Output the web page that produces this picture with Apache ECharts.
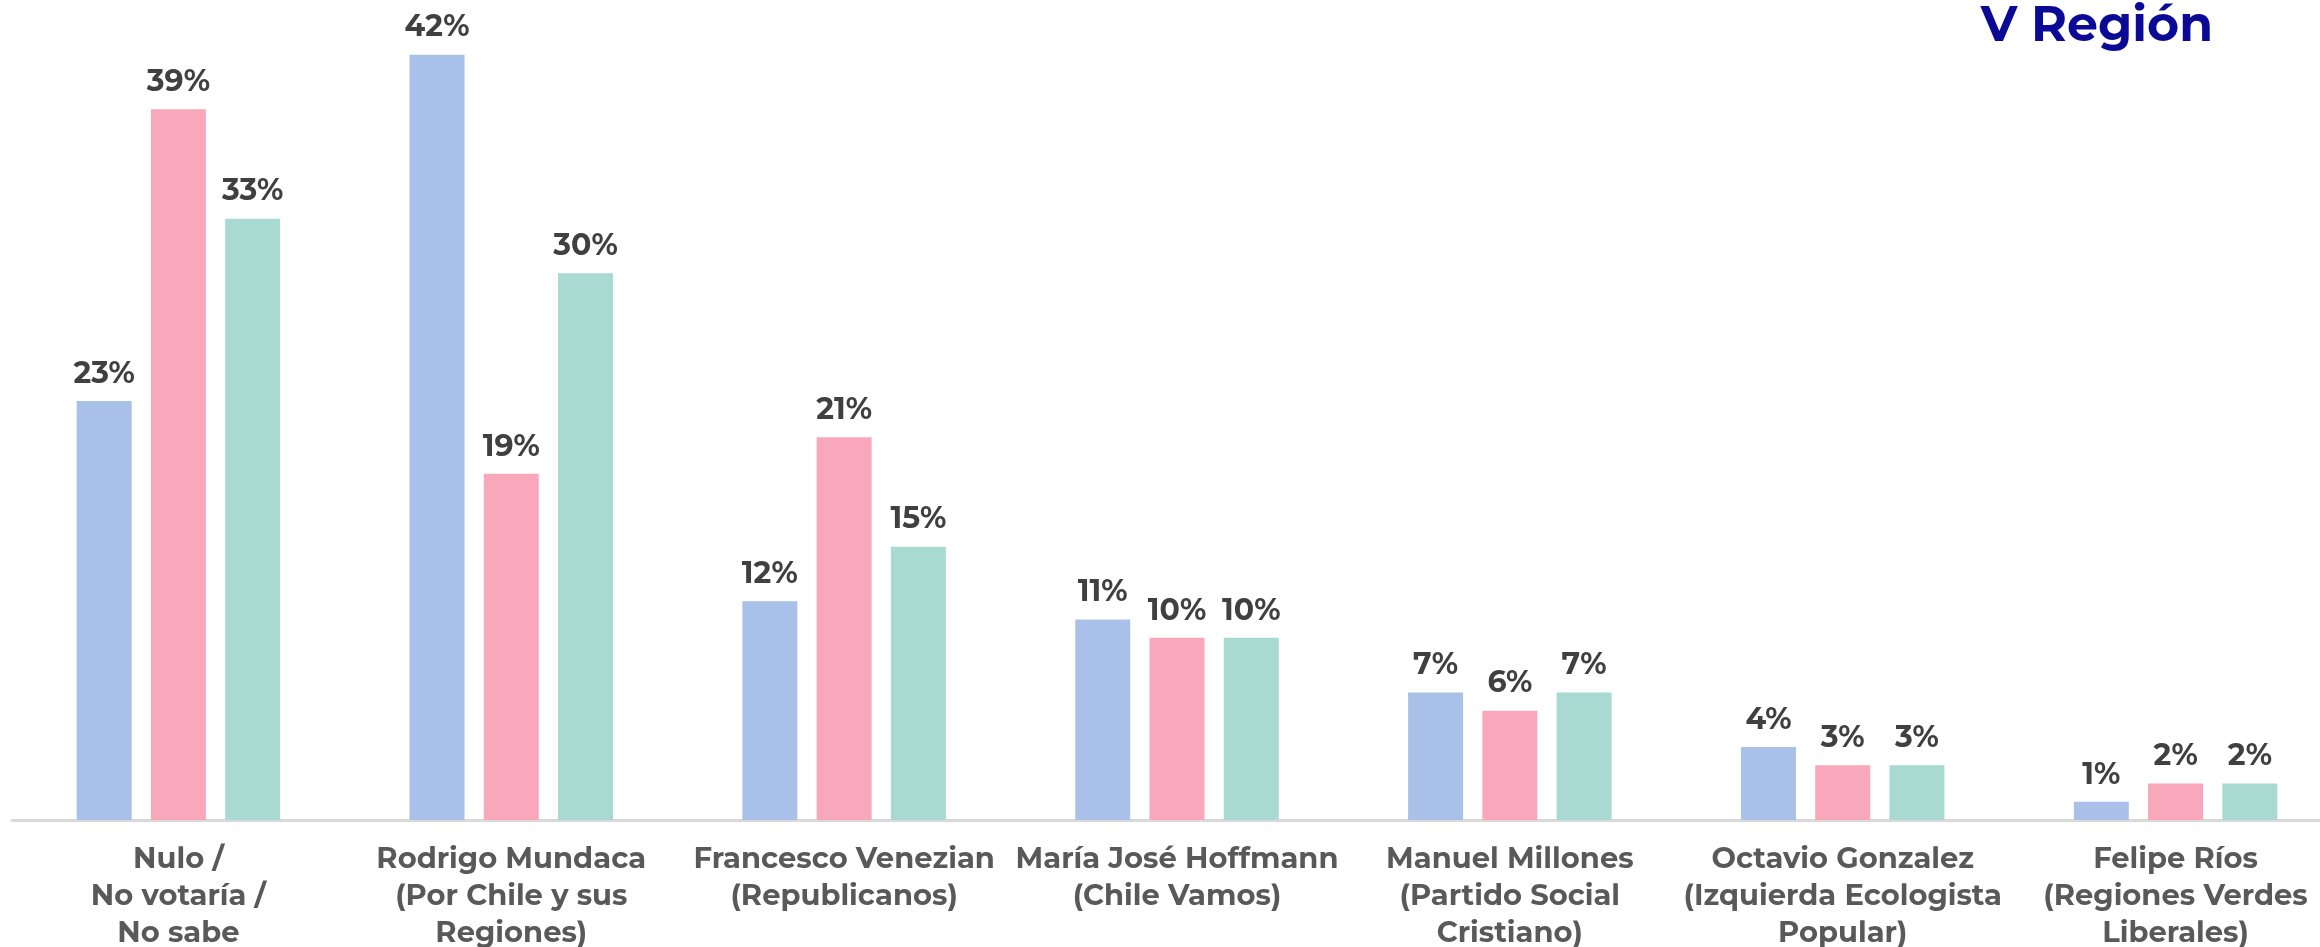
<!DOCTYPE html>
<html>
<head>
<meta charset="utf-8">
<script src="https://cdn.jsdelivr.net/npm/echarts@6/dist/echarts.min.js"></script>
<style>
  html, body { margin: 0; padding: 0; background: #fff; }
  #main { width: 2320px; height: 947px; }
</style>
</head>
<body>
<div id="main"></div>
<script>
// categorías (candidatos) y valores de cada medición
var categorias = [
  'Nulo /\nNo votaría /\nNo sabe',
  'Rodrigo Mundaca\n(Por Chile y sus\nRegiones)',
  'Francesco Venezian\n(Republicanos)',
  'María José Hoffmann\n(Chile Vamos)',
  'Manuel Millones\n(Partido Social\nCristiano)',
  'Octavio Gonzalez\n(Izquierda Ecologista\nPopular)',
  'Felipe Ríos\n(Regiones Verdes\nLiberales)'
];
var serieAzul  = [23, 42, 12, 11, 7, 4, 1];
var serieRosa  = [39, 19, 21, 10, 6, 3, 2];
var serieVerde = [33, 30, 15, 10, 7, 3, 2];

var fuente = 'Montserrat, Inter, "Open Sans", sans-serif';

var myChart = echarts.init(document.getElementById('main'));

function serie(nombre, datos, color) {
  return {
    name: nombre,
    type: 'bar',
    data: datos,
    barWidth: 55,
    barGap: '35%',
    itemStyle: { color: color },
    label: {
      show: true,
      position: 'top',
      distance: 12,
      formatter: '{c}%',
      color: '#404040',
      fontFamily: fuente,
      fontWeight: 'bold',
      fontSize: 30
    }
  };
}

var option = {
  animation: false,
  title: {
    text: 'V Región',
    right: 102,
    top: -3,
    textStyle: {
      color: '#0a0a96',
      fontFamily: fuente,
      fontWeight: 'bold',
      fontSize: 49
    }
  },
  grid: {
    left: 12, top: 0, width: 2330, bottom: 127,
    containLabel: false, outerBoundsMode: 'none'
  },
  xAxis: {
    type: 'category',
    data: categorias,
    axisLine: { lineStyle: { color: '#d9d9d9', width: 3 } },
    axisTick: { show: false },
    axisLabel: {
      interval: 0,
      margin: 21,
      color: '#595959',
      fontFamily: fuente,
      fontWeight: 'bold',
      fontSize: 29,
      lineHeight: 37
    }
  },
  yAxis: {
    type: 'value',
    min: 0,
    max: 45,
    show: false,
    splitLine: { show: false }
  },
  series: [
    serie('Medición 1', serieAzul, '#a9c1e8'),
    serie('Medición 2', serieRosa, '#f8a8ba'),
    serie('Medición 3', serieVerde, '#a8dad2')
  ]
};
myChart.setOption(option);
</script>
</body>
</html>
